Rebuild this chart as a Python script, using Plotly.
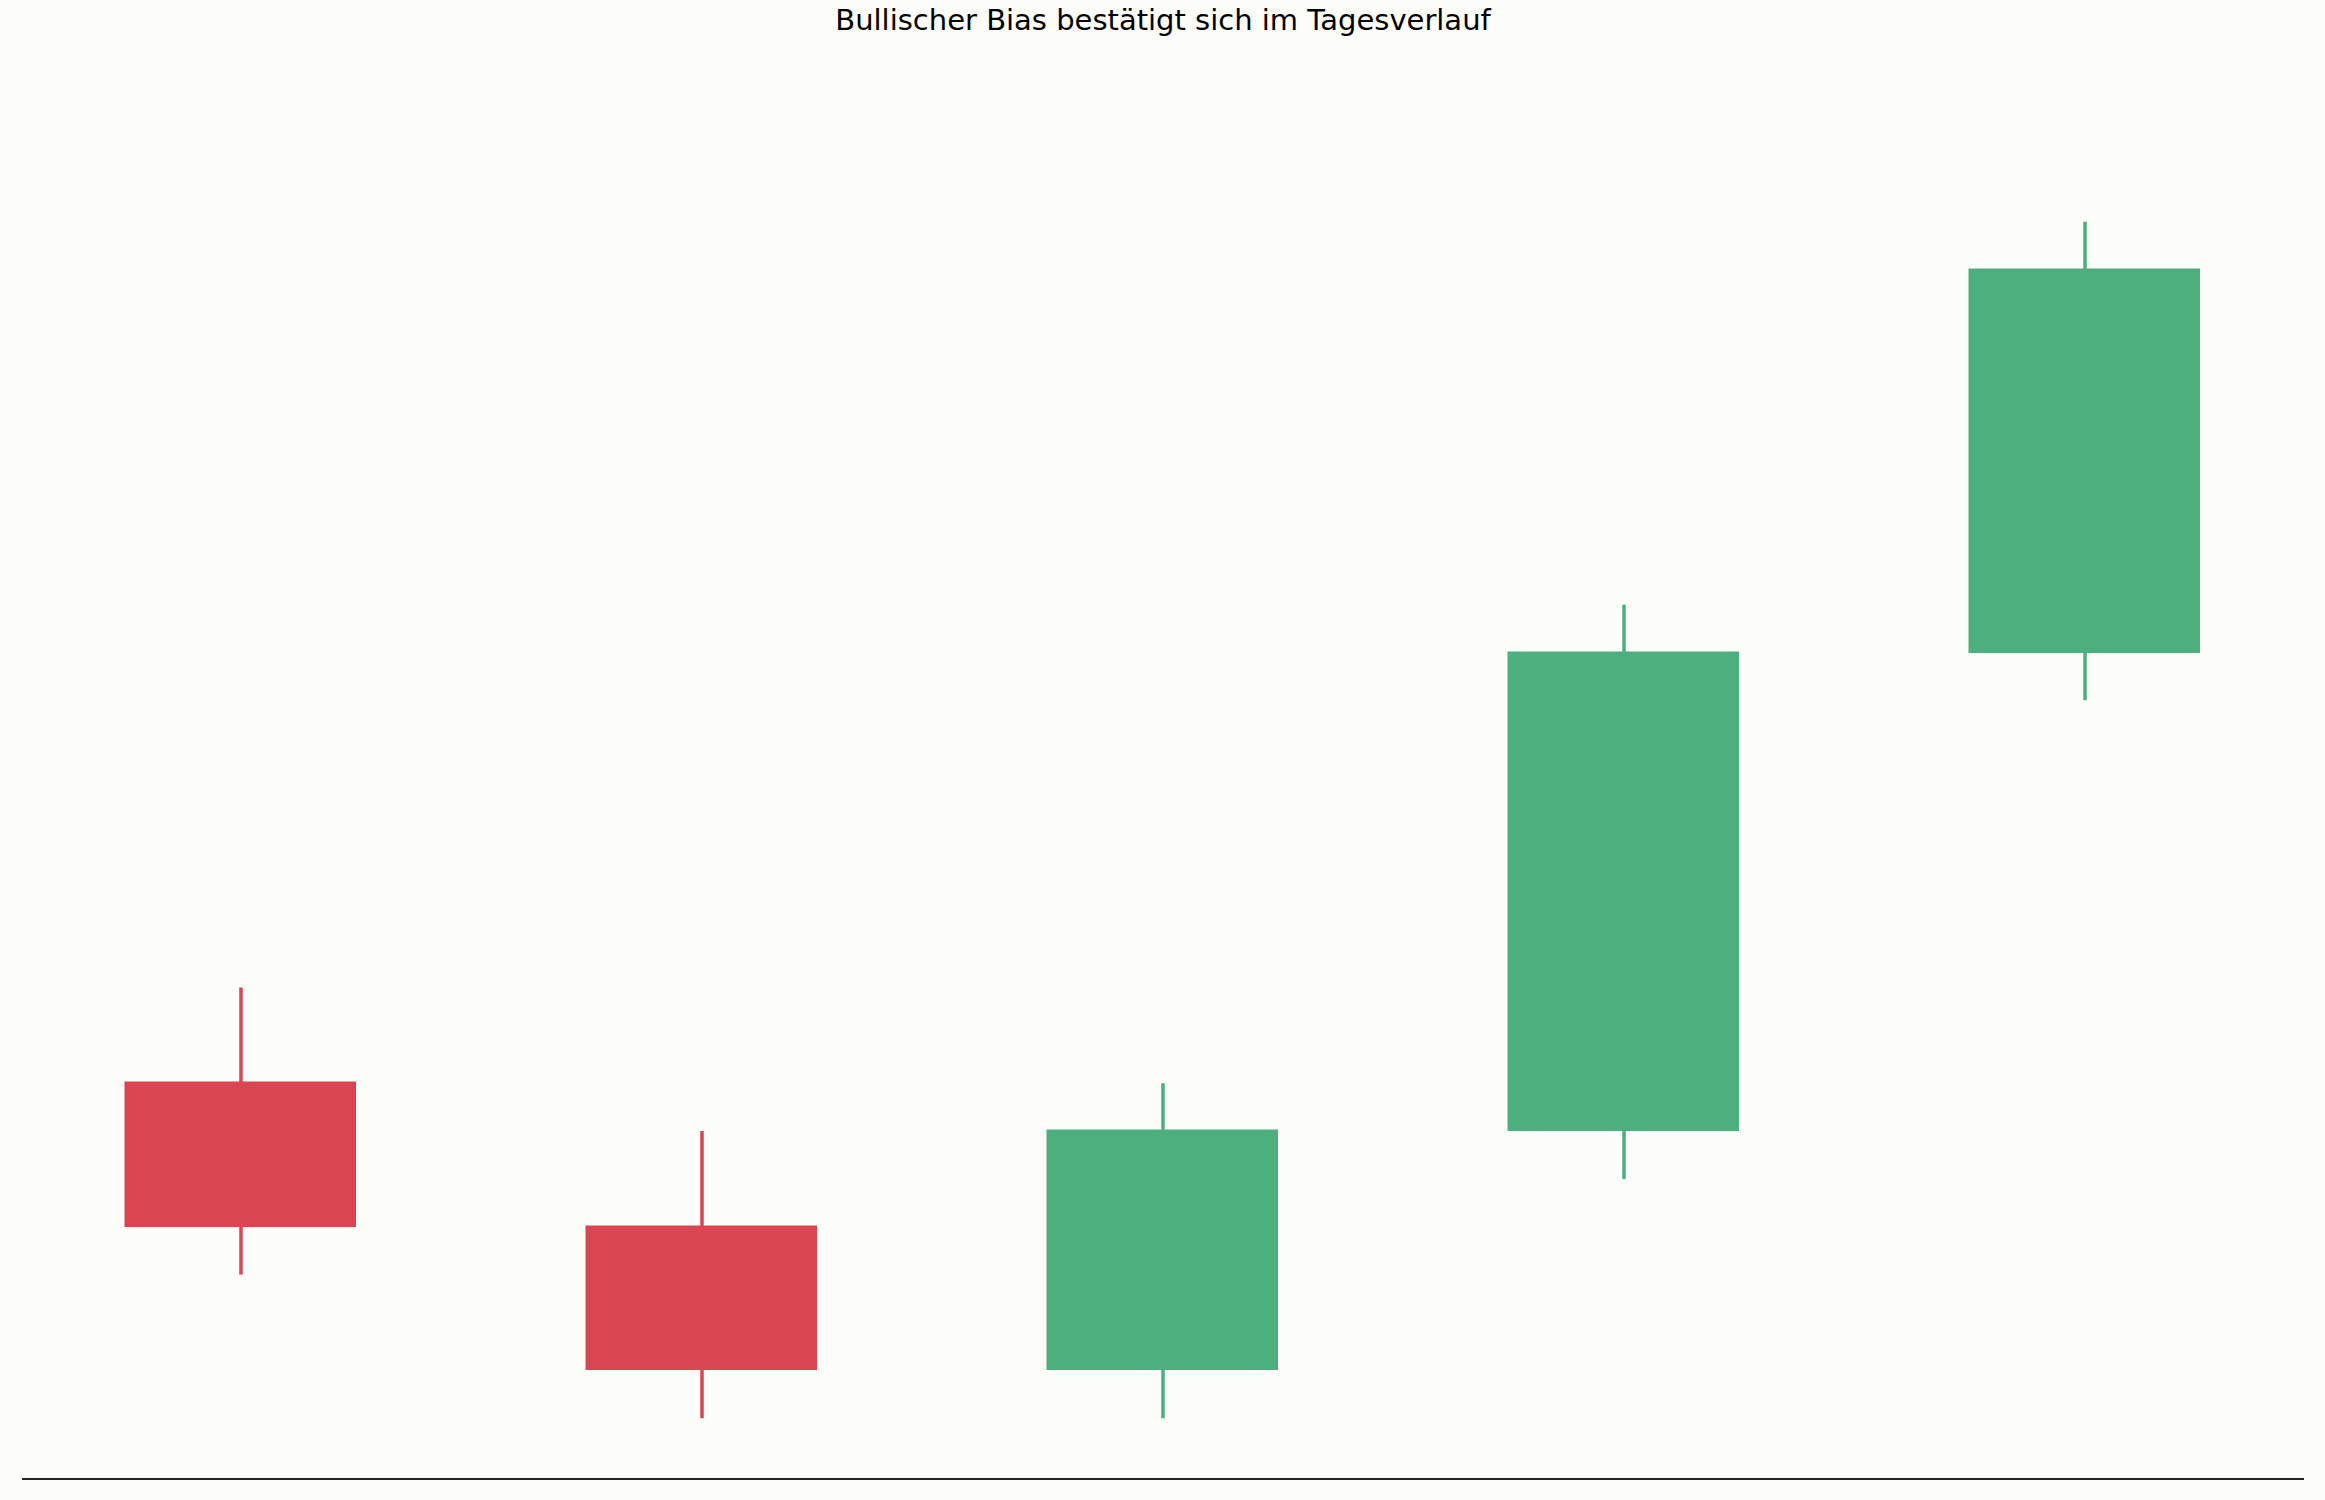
import plotly.graph_objects as go

categories = [0, 1, 2, 3, 4]
opens = [107, 104, 101, 106, 116]
highs = [109, 106, 107, 117, 125]
lows = [103, 100, 100, 105, 115]
closes = [104, 101, 106, 116, 124]

title_text = "Bullischer Bias bestätigt sich im Tagesverlauf"
UP = "#4DAF7E"
DOWN = "#D94652"
BG = "#FCFDF8"

colors = [UP if c >= o else DOWN for o, c in zip(opens, closes)]

fig = go.Figure()

# wicks
for x, h, l, col in zip(categories, highs, lows, colors):
    fig.add_trace(go.Scatter(x=[x, x], y=[l, h], mode="lines",
                             line=dict(color=col, width=3.5),
                             hoverinfo="skip", showlegend=False))

# bodies
fig.add_trace(go.Bar(
    x=categories,
    base=[min(o, c) for o, c in zip(opens, closes)],
    y=[abs(c - o) for o, c in zip(opens, closes)],
    width=0.5,
    marker=dict(color=colors, line=dict(width=1.5, color=colors)),
    showlegend=False,
))

fig.update_layout(
    width=2325, height=1500,
    paper_bgcolor=BG, plot_bgcolor=BG,
    margin=dict(l=22, r=21, t=162, b=22),
    title=dict(text=title_text, x=0.5, xanchor="center", xref="paper",
               y=1 - 20 / 1500, yanchor="middle", yref="container",
               font=dict(family="DejaVu Sans", size=29, color="#000000")),
    xaxis=dict(range=[-0.475, 4.475], showgrid=False, zeroline=False,
               showticklabels=False, ticks="", showline=True,
               linecolor="#262626", linewidth=2),
    yaxis=dict(range=[98.75, 126.25], showgrid=False, zeroline=False,
               showticklabels=False, ticks="", showline=False),
    bargap=0,
)

fig.write_html("out.html", config={"displayModeBar": False},
               post_script="document.body.style.margin='0';document.body.style.overflow='hidden';")
